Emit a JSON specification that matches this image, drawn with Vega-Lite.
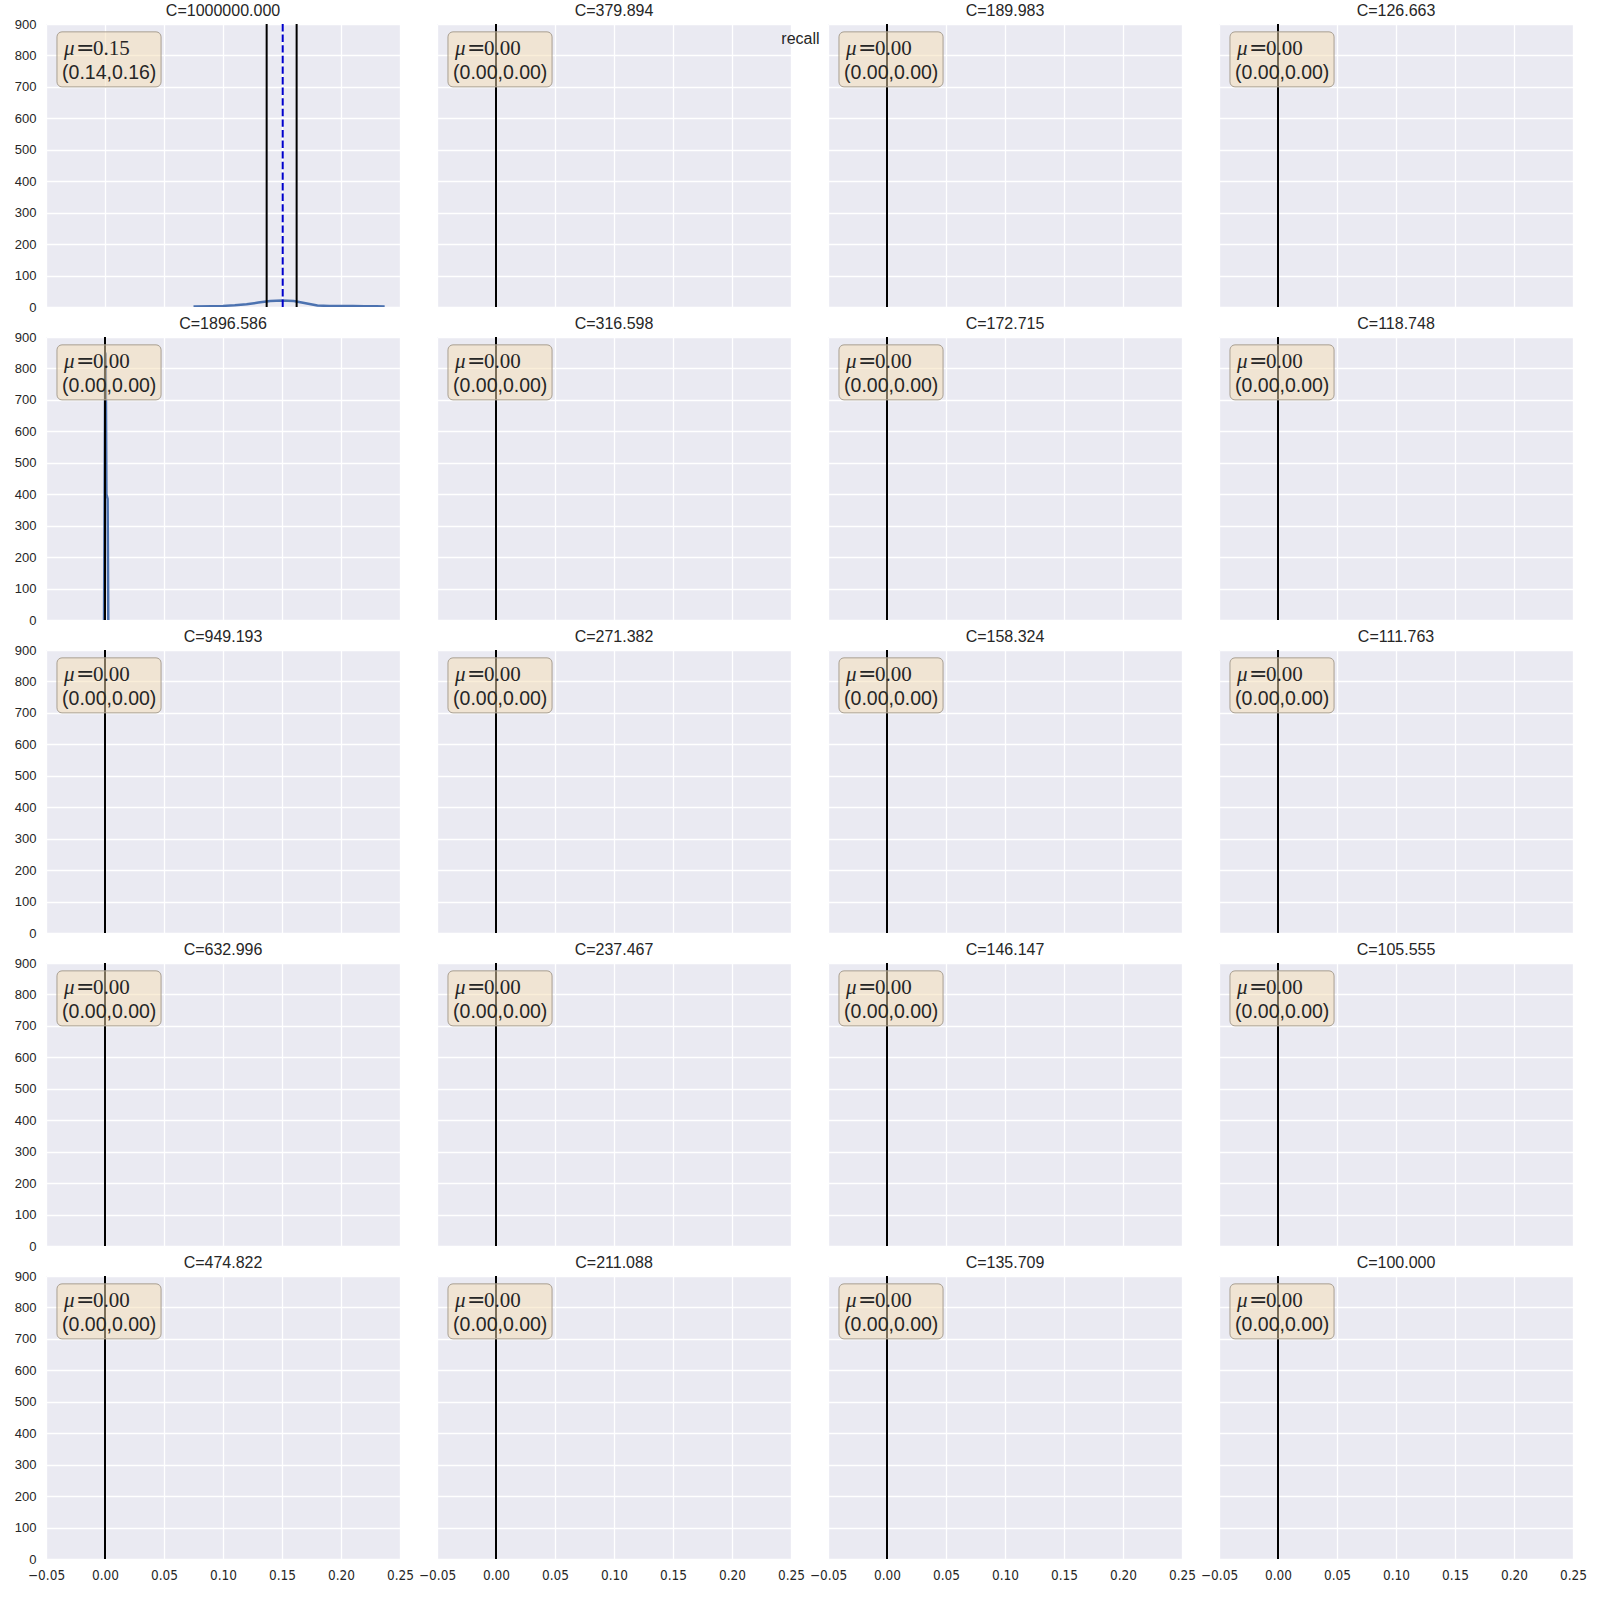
{
  "$schema": "https://vega.github.io/schema/vega-lite/v6.json",
  "background": "white",
  "padding": {"left": 14, "top": 3, "right": 0, "bottom": 0},
  "title": {"text": "recall", "fontSize": 16, "font": "Liberation Sans", "fontWeight": "normal", "color": "#262626", "anchor": "middle", "offset": 0, "dy": 44},
  "data": {"values": [
    {"panel": "C=1000000.000", "kind": "kde", "x": 0.075, "y": 1.5},
    {"panel": "C=1000000.000", "kind": "kde", "x": 0.09, "y": 2.5},
    {"panel": "C=1000000.000", "kind": "kde", "x": 0.10, "y": 3.5},
    {"panel": "C=1000000.000", "kind": "kde", "x": 0.11, "y": 5.5},
    {"panel": "C=1000000.000", "kind": "kde", "x": 0.12, "y": 9},
    {"panel": "C=1000000.000", "kind": "kde", "x": 0.13, "y": 14},
    {"panel": "C=1000000.000", "kind": "kde", "x": 0.14, "y": 19},
    {"panel": "C=1000000.000", "kind": "kde", "x": 0.15, "y": 21},
    {"panel": "C=1000000.000", "kind": "kde", "x": 0.16, "y": 19},
    {"panel": "C=1000000.000", "kind": "kde", "x": 0.17, "y": 12},
    {"panel": "C=1000000.000", "kind": "kde", "x": 0.18, "y": 5},
    {"panel": "C=1000000.000", "kind": "kde", "x": 0.19, "y": 3},
    {"panel": "C=1000000.000", "kind": "kde", "x": 0.20, "y": 3},
    {"panel": "C=1000000.000", "kind": "kde", "x": 0.21, "y": 3},
    {"panel": "C=1000000.000", "kind": "kde", "x": 0.22, "y": 2.5},
    {"panel": "C=1000000.000", "kind": "kde", "x": 0.23, "y": 2},
    {"panel": "C=1000000.000", "kind": "kde", "x": 0.237, "y": 1.5},
    {"panel": "C=1896.586", "kind": "kde", "x": -0.0008, "y": 0},
    {"panel": "C=1896.586", "kind": "kde", "x": -0.0003, "y": 420},
    {"panel": "C=1896.586", "kind": "kde", "x": 0.0002, "y": 850},
    {"panel": "C=1896.586", "kind": "kde", "x": 0.0006, "y": 845},
    {"panel": "C=1896.586", "kind": "kde", "x": 0.0012, "y": 400},
    {"panel": "C=1896.586", "kind": "kde", "x": 0.0022, "y": 385},
    {"panel": "C=1896.586", "kind": "kde", "x": 0.0028, "y": 0},
    {"panel": "C=1000000.000", "kind": "stat", "mean": 0.1506, "lo": 0.137, "hi": 0.1624, "mu": "0.15", "ci": "(0.14,0.16)"},
    {"panel": "C=379.894", "kind": "stat", "mean": 0, "lo": 0, "hi": 0, "mu": "0.00", "ci": "(0.00,0.00)"},
    {"panel": "C=189.983", "kind": "stat", "mean": 0, "lo": 0, "hi": 0, "mu": "0.00", "ci": "(0.00,0.00)"},
    {"panel": "C=126.663", "kind": "stat", "mean": 0, "lo": 0, "hi": 0, "mu": "0.00", "ci": "(0.00,0.00)"},
    {"panel": "C=1896.586", "kind": "stat", "mean": 0, "lo": 0, "hi": 0, "mu": "0.00", "ci": "(0.00,0.00)"},
    {"panel": "C=316.598", "kind": "stat", "mean": 0, "lo": 0, "hi": 0, "mu": "0.00", "ci": "(0.00,0.00)"},
    {"panel": "C=172.715", "kind": "stat", "mean": 0, "lo": 0, "hi": 0, "mu": "0.00", "ci": "(0.00,0.00)"},
    {"panel": "C=118.748", "kind": "stat", "mean": 0, "lo": 0, "hi": 0, "mu": "0.00", "ci": "(0.00,0.00)"},
    {"panel": "C=949.193", "kind": "stat", "mean": 0, "lo": 0, "hi": 0, "mu": "0.00", "ci": "(0.00,0.00)"},
    {"panel": "C=271.382", "kind": "stat", "mean": 0, "lo": 0, "hi": 0, "mu": "0.00", "ci": "(0.00,0.00)"},
    {"panel": "C=158.324", "kind": "stat", "mean": 0, "lo": 0, "hi": 0, "mu": "0.00", "ci": "(0.00,0.00)"},
    {"panel": "C=111.763", "kind": "stat", "mean": 0, "lo": 0, "hi": 0, "mu": "0.00", "ci": "(0.00,0.00)"},
    {"panel": "C=632.996", "kind": "stat", "mean": 0, "lo": 0, "hi": 0, "mu": "0.00", "ci": "(0.00,0.00)"},
    {"panel": "C=237.467", "kind": "stat", "mean": 0, "lo": 0, "hi": 0, "mu": "0.00", "ci": "(0.00,0.00)"},
    {"panel": "C=146.147", "kind": "stat", "mean": 0, "lo": 0, "hi": 0, "mu": "0.00", "ci": "(0.00,0.00)"},
    {"panel": "C=105.555", "kind": "stat", "mean": 0, "lo": 0, "hi": 0, "mu": "0.00", "ci": "(0.00,0.00)"},
    {"panel": "C=474.822", "kind": "stat", "mean": 0, "lo": 0, "hi": 0, "mu": "0.00", "ci": "(0.00,0.00)"},
    {"panel": "C=211.088", "kind": "stat", "mean": 0, "lo": 0, "hi": 0, "mu": "0.00", "ci": "(0.00,0.00)"},
    {"panel": "C=135.709", "kind": "stat", "mean": 0, "lo": 0, "hi": 0, "mu": "0.00", "ci": "(0.00,0.00)"},
    {"panel": "C=100.000", "kind": "stat", "mean": 0, "lo": 0, "hi": 0, "mu": "0.00", "ci": "(0.00,0.00)"}
  ]},
  "facet": {
    "field": "panel",
    "type": "nominal",
    "sort": ["C=1000000.000", "C=379.894", "C=189.983", "C=126.663", "C=1896.586", "C=316.598", "C=172.715", "C=118.748", "C=949.193", "C=271.382", "C=158.324", "C=111.763", "C=632.996", "C=237.467", "C=146.147", "C=105.555", "C=474.822", "C=211.088", "C=135.709", "C=100.000"],
    "header": {"title": null, "labelFontSize": 16, "labelFont": "Liberation Sans", "labelColor": "#262626", "labelPadding": 4}
  },
  "columns": 4,
  "spacing": {"row": 8, "column": 37},
  "resolve": {"scale": {"x": "shared", "y": "shared"}},
  "spec": {
    "width": 354,
    "height": 283,
    "layer": [
      {
        "transform": [{"filter": "datum.kind == 'kde'"}],
        "mark": {"type": "line", "color": "#4C72B0", "strokeWidth": 2.5, "clip": true},
        "encoding": {
          "x": {"field": "x", "type": "quantitative", "scale": {"domain": [-0.05, 0.25], "nice": false, "zero": false}, "axis": {"values": [-0.05, 0, 0.05, 0.1, 0.15, 0.2, 0.25], "format": ".2f", "title": null}},
          "y": {"field": "y", "type": "quantitative", "scale": {"domain": [0, 900], "nice": false, "zero": false}, "axis": {"values": [0, 100, 200, 300, 400, 500, 600, 700, 800, 900], "format": "d", "title": null}}
        }
      },
      {
        "transform": [{"filter": "datum.kind == 'stat'"}],
        "mark": {"type": "rule", "color": "#0000cc", "strokeWidth": 2, "strokeDash": [7.4, 3.2]},
        "encoding": {"x": {"field": "mean", "type": "quantitative", "axis": {"values": [-0.05, 0, 0.05, 0.1, 0.15, 0.2, 0.25], "format": ".2f", "title": null}}}
      },
      {
        "transform": [{"filter": "datum.kind == 'stat'"}],
        "mark": {"type": "rule", "color": "black", "strokeWidth": 2},
        "encoding": {"x": {"field": "lo", "type": "quantitative", "axis": {"values": [-0.05, 0, 0.05, 0.1, 0.15, 0.2, 0.25], "format": ".2f", "title": null}}}
      },
      {
        "transform": [{"filter": "datum.kind == 'stat'"}],
        "mark": {"type": "rule", "color": "black", "strokeWidth": 2},
        "encoding": {"x": {"field": "hi", "type": "quantitative", "axis": {"values": [-0.05, 0, 0.05, 0.1, 0.15, 0.2, 0.25], "format": ".2f", "title": null}}}
      },
      {
        "transform": [{"filter": "datum.kind == 'stat'"}],
        "mark": {"type": "rect", "fill": "#f5deb3", "fillOpacity": 0.5, "stroke": "#a89f92", "strokeWidth": 1, "cornerRadius": 5},
        "encoding": {
          "x": {"datum": -0.0407, "axis": {"values": [-0.05, 0, 0.05, 0.1, 0.15, 0.2, 0.25], "format": ".2f", "title": null}},
          "x2": {"datum": 0.0475},
          "y": {"datum": 700, "axis": {"values": [0, 100, 200, 300, 400, 500, 600, 700, 800, 900], "format": "d", "title": null}},
          "y2": {"datum": 875}
        }
      },
      {
        "transform": [{"filter": "datum.kind == 'stat'"}],
        "mark": {"type": "text", "font": "Liberation Serif", "fontStyle": "italic", "fontSize": 21, "align": "left", "baseline": "alphabetic", "color": "#262626"},
        "encoding": {
          "x": {"datum": -0.0347, "axis": {"values": [-0.05, 0, 0.05, 0.1, 0.15, 0.2, 0.25], "format": ".2f", "title": null}},
          "y": {"datum": 801, "axis": {"values": [0, 100, 200, 300, 400, 500, 600, 700, 800, 900], "format": "d", "title": null}},
          "text": {"value": "μ"}
        }
      },
      {
        "transform": [{"filter": "datum.kind == 'stat'"}],
        "mark": {"type": "text", "font": "DejaVu Serif", "fontSize": 22, "align": "left", "baseline": "alphabetic", "color": "#262626"},
        "encoding": {
          "x": {"datum": -0.0246, "axis": {"values": [-0.05, 0, 0.05, 0.1, 0.15, 0.2, 0.25], "format": ".2f", "title": null}},
          "y": {"datum": 801, "axis": {"values": [0, 100, 200, 300, 400, 500, 600, 700, 800, 900], "format": "d", "title": null}},
          "text": {"value": "="}
        }
      },
      {
        "transform": [{"filter": "datum.kind == 'stat'"}],
        "mark": {"type": "text", "font": "Liberation Serif", "fontSize": 21, "align": "left", "baseline": "alphabetic", "color": "#262626"},
        "encoding": {
          "x": {"datum": -0.0102, "axis": {"values": [-0.05, 0, 0.05, 0.1, 0.15, 0.2, 0.25], "format": ".2f", "title": null}},
          "y": {"datum": 801, "axis": {"values": [0, 100, 200, 300, 400, 500, 600, 700, 800, 900], "format": "d", "title": null}},
          "text": {"field": "mu"}
        }
      },
      {
        "transform": [{"filter": "datum.kind == 'stat'"}],
        "mark": {"type": "text", "font": "Liberation Sans", "fontSize": 19.5, "align": "left", "baseline": "alphabetic", "color": "#262626"},
        "encoding": {
          "x": {"datum": -0.0364, "axis": {"values": [-0.05, 0, 0.05, 0.1, 0.15, 0.2, 0.25], "format": ".2f", "title": null}},
          "y": {"datum": 725, "axis": {"values": [0, 100, 200, 300, 400, 500, 600, 700, 800, 900], "format": "d", "title": null}},
          "text": {"field": "ci"}
        }
      }
    ]
  },
  "config": {
    "font": "Liberation Sans",
    "view": {"fill": "#EAEAF2", "stroke": null},
    "axis": {"domain": false, "ticks": false, "grid": true, "gridColor": "white", "gridWidth": 1.3, "labelColor": "#262626", "labelFont": "Liberation Sans", "labelFontSize": 13, "labelOverlap": false, "labelBound": false, "labelFlush": false},
    "axisX": {"labelFont": "DejaVu Sans Condensed, Liberation Sans", "labelFontSize": 13.5, "labelPadding": 8},
    "axisY": {"labelPadding": 10}
  }
}
